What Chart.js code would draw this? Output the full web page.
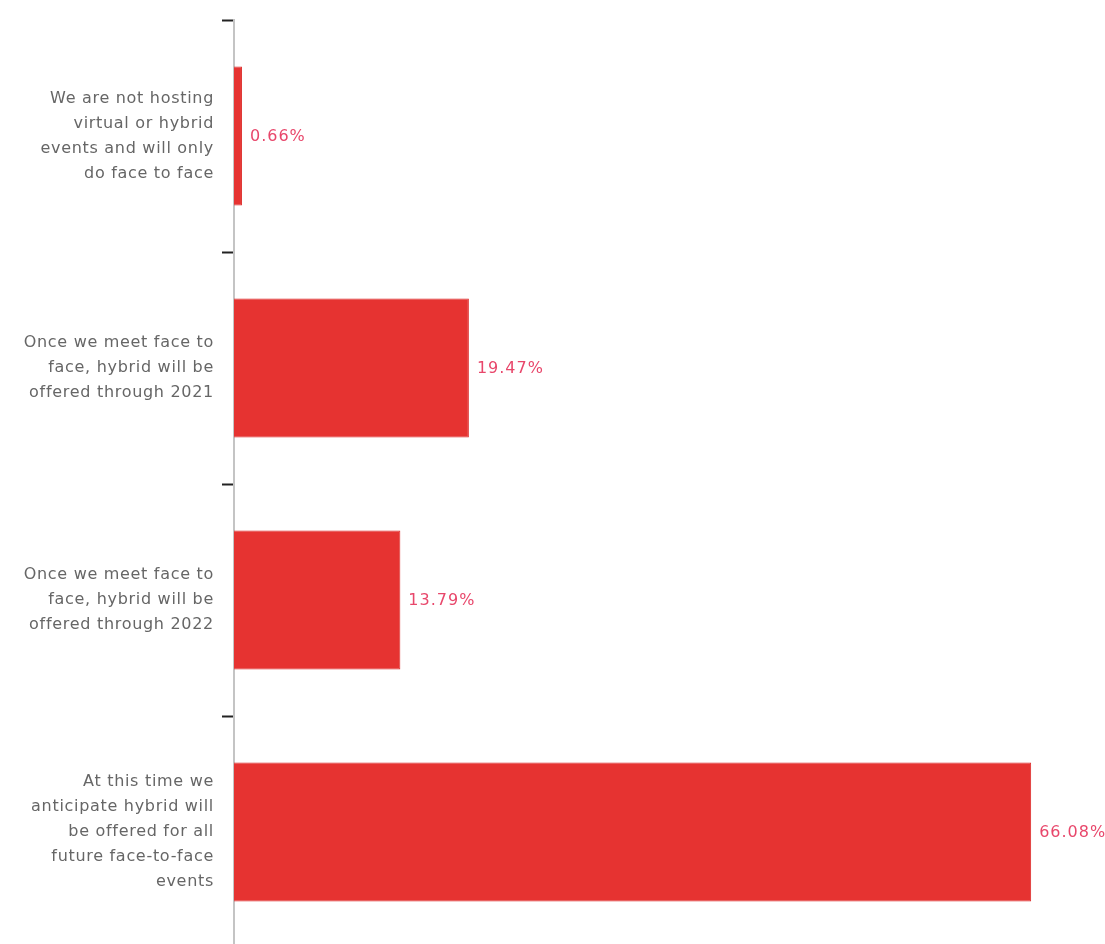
<!DOCTYPE html>
<html>
<head>
<meta charset="utf-8">
<title>Hybrid events outlook</title>
<script src="https://cdn.jsdelivr.net/npm/chart.js@4/dist/chart.umd.min.js"></script>
<style>
  html, body { margin: 0; padding: 0; background: #fff; overflow: hidden; }
  #wrap { position: relative; width: 1105px; height: 948px; }
</style>
</head>
<body>
<div id="wrap"><canvas id="mycanvas1"></canvas></div>
<script>
// answers, one per bar (label lines split by hand)
var answers = [
  ['We are not hosting', 'virtual or hybrid', 'events and will only', 'do face to face'],
  ['Once we meet face to', 'face, hybrid will be', 'offered through 2021'],
  ['Once we meet face to', 'face, hybrid will be', 'offered through 2022'],
  ['At this time we', 'anticipate hybrid will', 'be offered for all', 'future face-to-face', 'events']
];
var share = [0.66, 19.47, 13.79, 66.08];
var xMax = 72.2;

var barRed = '#e63331';
var labelPink = '#e8476b';

// a bit of tracking on all canvas text
var tracking = {
  id: 'tracking',
  beforeLayout: function(chart) { chart.ctx.letterSpacing = '0.7px'; },
  beforeDraw: function(chart) { chart.ctx.letterSpacing = '0.7px'; }
};

// writes the percentage just past the end of each bar
var valueLabels = {
  id: 'valueLabels',
  afterDatasetsDraw: function(chart) {
    var ctx = chart.ctx;
    var meta = chart.getDatasetMeta(0);
    ctx.save();
    ctx.font = '16px "DejaVu Sans"';
    ctx.letterSpacing = '1px';
    ctx.fillStyle = labelPink;
    ctx.textAlign = 'left';
    ctx.textBaseline = 'middle';
    meta.data.forEach(function(bar, i) {
      ctx.fillText(share[i].toFixed(2) + '%', bar.x + 8, bar.y + 1);
    });
    ctx.restore();
  }
};

var ctx = document.getElementById('mycanvas1');

var barGraph = new Chart(ctx, {
  type: 'bar',
  data: {
    labels: answers,
    datasets: [{
      data: share,
      backgroundColor: barRed,
      borderColor: '#dc2a28',
      borderWidth: 1,
      barPercentage: 0.6,
      categoryPercentage: 1.0
    }]
  },
  plugins: [tracking, valueLabels],
  options: {
    indexAxis: 'y',
    responsive: true,
    maintainAspectRatio: false,
    animation: false,
    layout: { padding: { top: 20, right: 0, bottom: 0, left: 0 } },
    plugins: {
      legend: { display: false },
      tooltip: { enabled: false }
    },
    scales: {
      x: {
        display: false,
        min: 0,
        max: xMax
      },
      y: {
        // fixed axis width, and no extra room for the tall first/last labels
        afterFit: function(scale) {
          scale.width = 234;
          scale.paddingTop = 0;
          scale.paddingBottom = 0;
        },
        border: { display: true, color: '#c4c4c4', width: 2 },
        grid: {
          drawOnChartArea: false,
          drawTicks: true,
          tickLength: 12,
          tickColor: '#222',
          tickWidth: 2,
          offset: true
        },
        ticks: {
          color: '#666',
          padding: 8,
          font: { family: '"DejaVu Sans"', size: 16, lineHeight: '25px' }
        }
      }
    }
  }
});
</script>
</body>
</html>
